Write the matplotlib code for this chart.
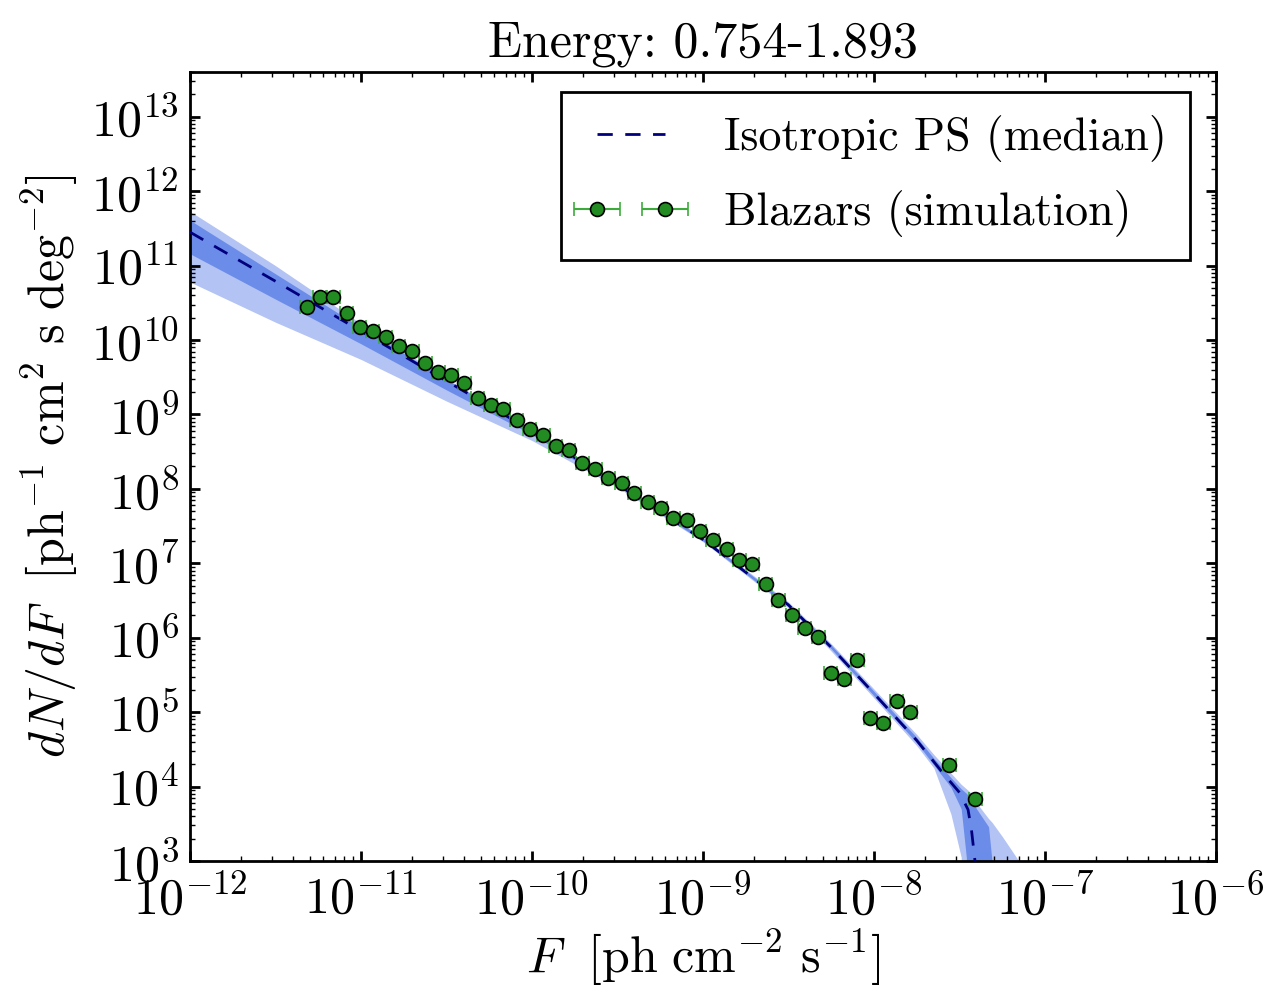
import numpy as np
import matplotlib
matplotlib.use("Agg")
import matplotlib.pyplot as plt
from matplotlib.ticker import LogLocator, NullFormatter

plt.rcParams.update({
    "font.family": "serif",
    "font.serif": ["cmr10"],
    "mathtext.fontset": "cm",
    "axes.formatter.use_mathtext": True,
    "axes.unicode_minus": False,
    "font.size": 36,
})

# ---------------- data (log10 values) ----------------
# Blazar simulation points
log10_F_pts = [-11.318, -11.240, -11.162, -11.084, -11.006, -10.932, -10.854, -10.778,
               -10.700, -10.624, -10.548, -10.472, -10.396, -10.318, -10.242, -10.168,
               -10.089, -10.012, -9.934, -9.860, -9.784, -9.706, -9.629, -9.554,
               -9.475, -9.402, -9.323, -9.247, -9.174, -9.095, -9.018, -8.943,
               -8.861, -8.789, -8.712, -8.633, -8.560, -8.478, -8.404, -8.326,
               -8.253, -8.175, -8.098, -8.023, -7.946, -7.867, -7.789, -7.561, -7.409]
log10_dNdF_pts = [10.439, 10.573, 10.573, 10.358, 10.178, 10.124, 10.035, 9.922,
                  9.847, 9.689, 9.577, 9.528, 9.420, 9.227, 9.128, 9.070,
                  8.926, 8.801, 8.720, 8.576, 8.522, 8.343, 8.273, 8.151,
                  8.083, 7.939, 7.828, 7.738, 7.612, 7.576, 7.432, 7.311,
                  7.186, 7.038, 6.993, 6.724, 6.503, 6.311, 6.132, 6.015,
                  5.526, 5.445, 5.705, 4.921, 4.853, 5.144, 5.001, 4.292, 3.834]
bin_halfwidth_dex = 0.038

# Isotropic PS median
log10_F_med = [-12.0, -11.5, -11.0, -10.5, -10.0, -9.5, -9.0, -8.5, -8.25, -8.0,
               -7.75, -7.6, -7.5, -7.45, -7.43, -7.41, -7.40]
log10_dNdF_med = [11.45, 10.79, 10.12, 9.45, 8.78, 8.06, 7.32, 6.44, 5.87, 5.25,
                  4.62, 4.19, 3.92, 3.69, 3.42, 3.01, 2.70]

# Uncertainty bands (68% dark, 95% light)
log10_F_band = [-12.0, -11.5, -11.0, -10.5, -10.0, -9.5, -9.0, -8.5, -8.25, -8.0,
                -7.75, -7.65, -7.55, -7.49, -7.46, -7.44, -7.40, -7.33, -7.31,
                -7.25, -7.156, -7.10]
light_lo = [10.78, 10.24, 9.74, 9.18, 8.65, 8.02, 7.29, 6.40, 5.82, 5.19,
            4.55, 4.25, 3.63, 3.05, 0.0, 0.0, 0.0, 0.0, 0.0, 0.0, 0.0, 0.0]
dark_lo = [11.16, 10.55, 9.95, 9.33, 8.73, 8.04, 7.30, 6.42, 5.85, 5.22,
           4.59, 4.29, 3.99, 3.70, 3.05, 0.0, 0.0, 0.0, 0.0, 0.0, 0.0, 0.0]
dark_hi = [11.61, 10.89, 10.17, 9.47, 8.80, 8.08, 7.34, 6.46, 5.90, 5.28,
           4.66, 4.38, 4.12, 3.97, 3.91, 3.86, 3.70, 3.46, 3.00, 0.0, 0.0, 0.0]
light_hi = [11.73, 11.00, 10.22, 9.48, 8.81, 8.09, 7.35, 6.48, 5.92, 5.31,
            4.70, 4.43, 4.18, 4.03, 3.97, 3.93, 3.78, 3.57, 3.52, 3.33, 3.01, 2.80]

title = "Energy: 0.754-1.893"

# ---------------- plot ----------------
W, H = 1269, 988
L, R, T, B = 190, 1216, 72, 861
fig = plt.figure(figsize=(W / 100, H / 100), dpi=100)
ax = fig.add_axes([L / W, 1 - B / H, (R - L) / W, (B - T) / H])

Fb = 10 ** np.array(log10_F_band)
ax.fill_between(Fb, 10 ** np.array(light_lo), 10 ** np.array(light_hi),
                color="#b3c3f3", lw=0, zorder=1)
ax.fill_between(Fb, 10 ** np.array(dark_lo), 10 ** np.array(dark_hi),
                color="#6b8ce8", lw=0, zorder=2)

med_line, = ax.plot(10 ** np.array(log10_F_med), 10 ** np.array(log10_dNdF_med),
                    color="#00007f", lw=2, zorder=3, label="Isotropic PS (median)")
med_line.set_dashes((5.5, 4.5))

F = 10 ** np.array(log10_F_pts)
y = 10 ** np.array(log10_dNdF_pts)
xerr = [F * (1 - 10 ** -bin_halfwidth_dex), F * (10 ** bin_halfwidth_dex - 1)]
ax.errorbar(F, y, xerr=xerr, fmt="o", color="#2e9e2e", mfc="#228b22", mec="k",
            mew=1.2, ms=10, ecolor="#3cab3c", elinewidth=1.5, capsize=4.7,
            capthick=1.2, zorder=5, label="Blazars (simulation)")

ax.set_xscale("log")
ax.set_yscale("log")
ax.set_xlim(1e-12, 1e-6)
ax.set_ylim(1e3, 4e13)

ax.xaxis.set_major_locator(LogLocator(base=10, numticks=30))
ax.yaxis.set_major_locator(LogLocator(base=10, numticks=30))
for a in (ax.xaxis, ax.yaxis):
    a.set_minor_locator(LogLocator(base=10, subs=np.arange(2, 10), numticks=300))
    a.set_minor_formatter(NullFormatter())

ax.tick_params(which="both", direction="in", top=True, right=True)
ax.tick_params(which="major", length=7.5, width=2)
ax.tick_params(axis="x", which="major", pad=10)
ax.tick_params(axis="y", which="major", pad=8)
ax.tick_params(which="minor", length=3.8, width=1)
for s in ax.spines.values():
    s.set_linewidth(2)

ax.set_xlabel(r"$F\ \ [\mathrm{ph\ cm^{-2}\ s^{-1}}]$", labelpad=2)
ax.set_ylabel(r"$dN/dF\ \ [\mathrm{ph^{-1}\ cm^{2}\ s\ deg^{-2}}]$", labelpad=8)
ax.set_title(title, fontsize=36, pad=11)

lx = (1190 - L) / (R - L)
ly = (B - 92) / (B - T)
leg = ax.legend(loc="upper right", bbox_to_anchor=(lx, ly), borderaxespad=0,
                fancybox=False, edgecolor="k", framealpha=1, fontsize=33,
                numpoints=2, handlelength=2.07, handletextpad=1.0,
                borderpad=0.5, labelspacing=0.62)
leg.get_frame().set_linewidth(2)

fig.savefig("out.png", dpi=100)
